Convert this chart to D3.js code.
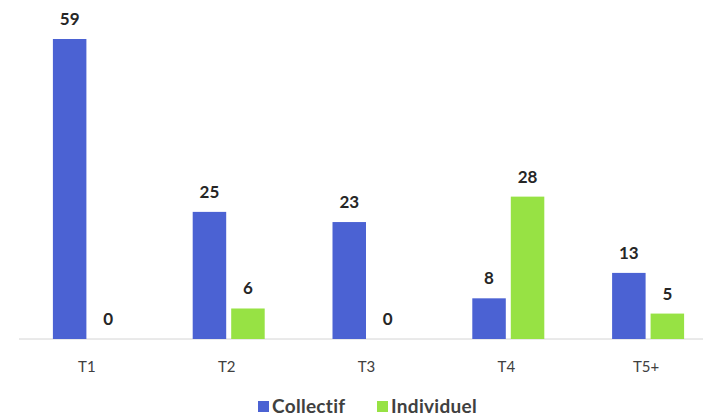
<!DOCTYPE html>
<html>
<head>
<meta charset="utf-8">
<script src="https://cdn.jsdelivr.net/npm/d3@7"></script>
<style>
  body { margin: 0; background: #fff; }
  svg { display: block; font-family: Lato, "Open Sans", sans-serif; }
</style>
</head>
<body>
<svg id="chart" width="703" height="416"></svg>
<script>
// chart data
var categories = ['T1', 'T2', 'T3', 'T4', 'T5+'];
var seriesNames = ['Collectif', 'Individuel'];
var collectif = [59, 25, 23, 8, 13];
var individuel = [0, 6, 0, 28, 5];
var colors = ['#4b62d3', '#97e244'];

var svg = d3.select('#chart');
var baseY = 339;

var x = d3.scaleBand().domain(categories).range([19, 718]);
var y = d3.scaleLinear().domain([0, 59]).range([baseY, 39]);
var inner = d3.scaleBand().domain(seriesNames).range([-36, 36]).paddingInner(0.13);

var rows = categories.map(function(c, i) {
    return { cat: c, vals: [collectif[i], individuel[i]] };
});

// baseline
svg.append('line')
    .attr('x1', x.range()[0]).attr('x2', x.range()[1])
    .attr('y1', baseY).attr('y2', baseY)
    .style('stroke', '#d4d4d4').style('stroke-width', 1);

var groups = svg.selectAll('.cat').data(rows).enter()
    .append('g')
    .attr('class', 'cat')
    .attr('transform', function(d) { return 'translate(' + (x(d.cat) + x.bandwidth() / 2) + ',0)'; });

groups.selectAll('rect').data(function(d) { return d.vals; }).enter()
    .append('rect')
    .attr('x', function(d, i) { return inner(seriesNames[i]); })
    .attr('width', inner.bandwidth())
    .attr('y', function(d) { return y(d); })
    .attr('height', function(d) { return baseY - y(d); })
    .style('fill', function(d, i) { return colors[i]; });

// value labels
groups.selectAll('.val').data(function(d) { return d.vals; }).enter()
    .append('text')
    .attr('class', 'val')
    .attr('x', function(d, i) { return inner(seriesNames[i]) + inner.bandwidth() / 2; })
    .attr('y', function(d) { return y(d) - 14; })
    .attr('text-anchor', 'middle')
    .style('font-size', '17px').style('font-weight', 'bold').style('fill', '#262626')
    .text(function(d) { return d; });

// category labels
groups.append('text')
    .attr('x', -2).attr('y', 372)
    .attr('text-anchor', 'middle')
    .style('font-size', '15px').style('fill', '#404040')
    .text(function(d) { return d.cat; });

// legend
var legendX = [258, 377];
var legend = svg.selectAll('.leg').data(seriesNames).enter()
    .append('g')
    .attr('class', 'leg')
    .attr('transform', function(d, i) { return 'translate(' + legendX[i] + ',0)'; });

legend.append('rect')
    .attr('x', 0).attr('y', 401).attr('width', 11).attr('height', 11)
    .style('fill', function(d, i) { return colors[i]; });

legend.append('text')
    .attr('x', 14).attr('y', 413)
    .style('font-size', '19px').style('font-weight', 'bold').style('fill', '#404040')
    .style('letter-spacing', '0.3px')
    .text(function(d) { return d; });
</script>
</body>
</html>
